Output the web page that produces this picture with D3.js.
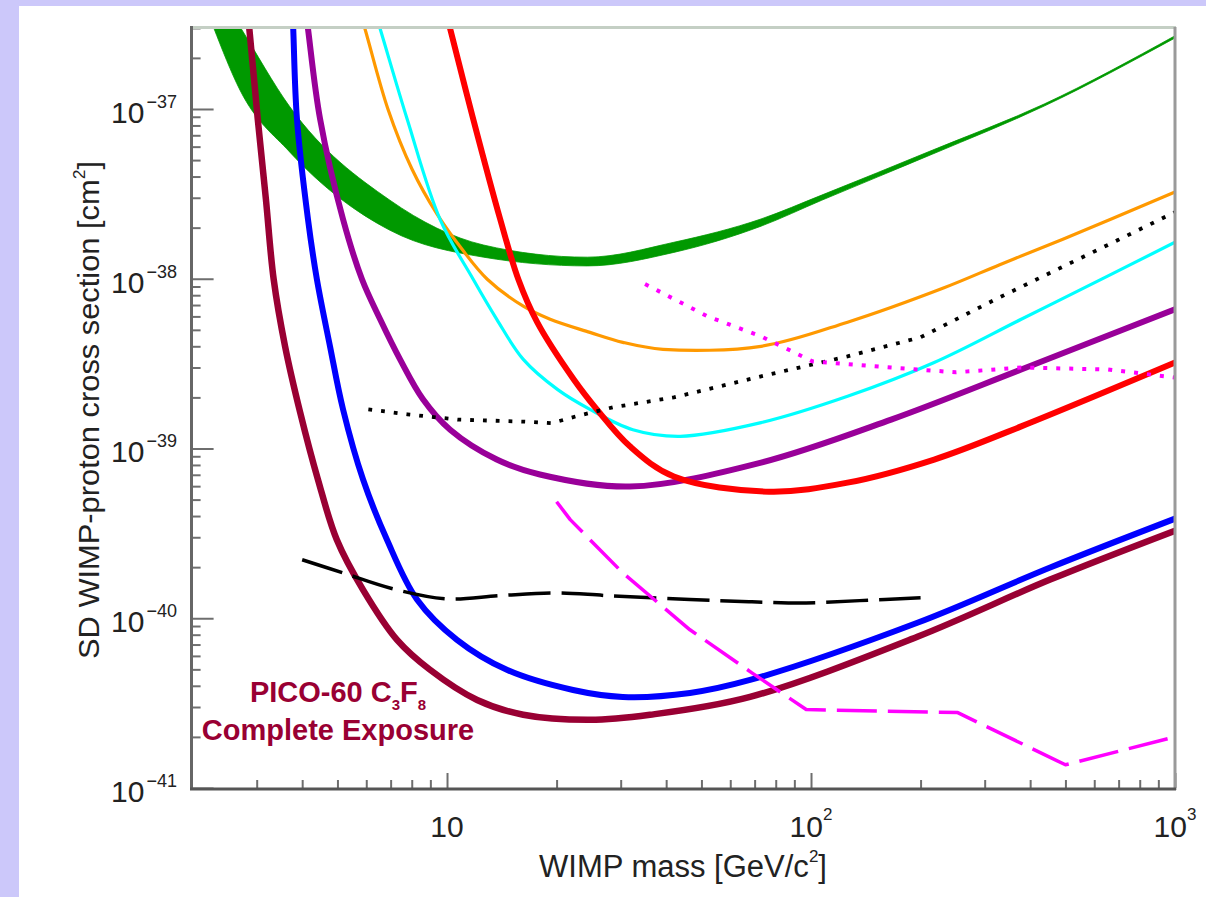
<!DOCTYPE html>
<html>
<head>
<meta charset="utf-8">
<script src="https://cdn.jsdelivr.net/npm/d3@7"></script>
<style>
  html, body { margin: 0; padding: 0; background: #ccc8fa; }
  svg { display: block; }
</style>
</head>
<body>
<svg id="chart" width="1206" height="897"></svg>
<script>
// ---------------- DATA (WIMP mass in GeV/c^2, SD WIMP-proton cross section in cm^2) ----------------
const xTickValues = [10, 100, 1000];
const xTickBase = ["10", "10", "10"];
const xTickExp = ["", "2", "3"];
const yTickValues = [1e-37, 1e-38, 1e-39, 1e-40, 1e-41];
const yTickExp = ["\u221237", "\u221238", "\u221239", "\u221240", "\u221241"];

// PICO-60 C3F8 complete exposure (maroon)
const massPico = [2.80, 2.86, 3.02, 3.18, 3.34, 3.59, 3.95, 4.42, 4.98, 5.88, 7.29, 8.98, 12.1, 16.2, 24.7, 36.1, 68.0, 196, 454, 1000];
const sigmaPico = [4.46e-37, 3.05e-37, 8.73e-38, 2.94e-38, 9.93e-39, 4.00e-39, 1.63e-39, 6.56e-40, 2.90e-40, 1.47e-40, 7.46e-41, 4.97e-41, 3.30e-41, 2.70e-41, 2.52e-41, 2.70e-41, 3.44e-41, 7.78e-41, 1.69e-40, 3.28e-40];

// blue
const massBlue = [3.75, 3.78, 3.87, 4.15, 4.39, 4.77, 5.18, 5.88, 6.84, 8.27, 10.65, 14.6, 22.2, 30.4, 46.5, 68.0, 196, 454, 1000];
const sigmaBlue = [4.46e-37, 2.97e-37, 8.73e-38, 2.24e-38, 9.93e-39, 4.00e-39, 1.70e-39, 6.56e-40, 2.90e-40, 1.29e-40, 7.46e-41, 4.97e-41, 3.78e-41, 3.44e-41, 3.63e-41, 4.33e-41, 9.4e-41, 1.99e-40, 3.86e-40];

// purple
const massPurple = [4.05, 4.15, 4.48, 5.18, 5.84, 6.55, 7.43, 8.59, 10.2, 13.7, 18.0, 31.8, 72.9, 166, 378, 1000];
const sigmaPurple = [4.46e-37, 2.97e-37, 8.73e-38, 2.24e-38, 9.93e-39, 5.77e-39, 3.35e-39, 1.95e-39, 1.29e-39, 8.61e-40, 7.03e-40, 5.97e-40, 8.26e-40, 1.48e-39, 2.92e-39, 6.61e-39];

// red
const massRed = [9.70, 10.2, 11.8, 14.0, 15.7, 17.7, 22.3, 25.8, 31.8, 42.0, 76.7, 126, 218, 378, 1000];
const sigmaRed = [4.46e-37, 2.97e-37, 8.73e-38, 2.24e-38, 9.93e-39, 5.53e-39, 2.55e-39, 1.70e-39, 1.03e-39, 6.84e-40, 5.57e-40, 6.29e-40, 8.61e-40, 1.35e-39, 3.21e-39];

// orange
const massOrange = [5.62, 5.95, 6.88, 8.01, 9.39, 11.0, 12.9, 16.2, 19.2, 24.7, 30.4, 39.2, 72.9, 126, 232, 330, 492, 1000];
const sigmaOrange = [4.46e-37, 2.97e-37, 1.0e-37, 4.43e-38, 2.40e-38, 1.49e-38, 9.93e-39, 6.89e-39, 5.77e-39, 4.83e-39, 4.22e-39, 3.84e-39, 4.00e-39, 5.55e-39, 8.85e-39, 1.21e-38, 1.71e-38, 3.24e-38];

// cyan
const massCyan = [6.18, 6.55, 7.77, 9.57, 11.8, 13.7, 16.2, 20.1, 24.7, 32.4, 43.7, 72.9, 126, 218, 378, 655, 1000];
const sigmaCyan = [4.46e-37, 2.97e-37, 8.73e-38, 2.24e-38, 9.93e-39, 5.77e-39, 3.35e-39, 2.23e-39, 1.70e-39, 1.29e-39, 1.18e-39, 1.42e-39, 2.03e-39, 3.21e-39, 5.77e-39, 1.04e-38, 1.64e-38];

// green band
const massGreen = [2.28, 2.70, 3.70, 6.97, 12.6, 24.3, 42.0, 72.9, 107, 216, 437, 1000];
const sigmaGreenLow = [3.05e-37, 1.29e-37, 5.57e-38, 1.93e-38, 1.34e-38, 1.19e-38, 1.43e-38, 2.04e-38, 2.90e-38, 5.43e-38, 1.04e-37, 2.62e-37];
const sigmaGreenHigh = [5.46e-37, 3.05e-37, 1.03e-37, 2.90e-38, 1.58e-38, 1.34e-38, 1.64e-38, 2.25e-38, 3.11e-38, 5.73e-38, 1.07e-37, 2.70e-37];

// black dotted
const massBlackDot = [6.08, 7.78, 10.7, 16.2, 19.4, 22.7, 28.6, 42.0, 72.9, 126, 200, 330, 697, 1000];
const sigmaBlackDot = [1.70e-39, 1.59e-39, 1.48e-39, 1.44e-39, 1.41e-39, 1.55e-39, 1.75e-39, 2.0e-39, 2.66e-39, 3.49e-39, 4.52e-39, 7.78e-39, 1.69e-38, 2.47e-38];

// magenta dotted
const massMagDot = [35.0, 52, 72.9, 101, 166, 250, 378, 655, 1000];
const sigmaMagDot = [9.3e-39, 6.0e-39, 4.58e-39, 3.26e-39, 3.0e-39, 2.81e-39, 3.0e-39, 2.92e-39, 2.62e-39];

// black dashed
const massBlackDash = [4.0, 5.18, 7.11, 10, 14.0, 20, 27.5, 46.5, 68.8, 96.9, 136, 200];
const sigmaBlackDash = [2.21e-40, 1.85e-40, 1.49e-40, 1.30e-40, 1.36e-40, 1.41e-40, 1.36e-40, 1.29e-40, 1.25e-40, 1.23e-40, 1.27e-40, 1.32e-40];

// magenta dashed
const massMagDash = [20, 21.8, 30.4, 46.5, 68.8, 97, 253, 500, 1000];
const sigmaMagDash = [4.86e-40, 3.81e-40, 1.85e-40, 8.55e-41, 4.77e-41, 2.9e-41, 2.78e-41, 1.37e-41, 2.0e-41];

// ---------------- DRAWING ----------------
const svg = d3.select("#chart");
const FONT = "'Liberation Sans', Arial, Helvetica, sans-serif";

svg.append("rect").attr("x", 0).attr("y", 0).attr("width", 1206).attr("height", 897).attr("fill", "#ccc8fa");
svg.append("rect").attr("x", 19).attr("y", 6).attr("width", 1187).attr("height", 891).attr("fill", "#ffffff");

const L = 192.6, R = 1175, T = 28, B = 788;
const x = d3.scaleLog().domain([2, 1000]).range([L, R]);
const y = d3.scaleLog().domain([1e-41, 3e-37]).range([B, T]);

svg.append("defs").append("clipPath").attr("id", "plotclip")
  .append("rect").attr("x", L).attr("y", T).attr("width", R - L).attr("height", B - T);

const plot = svg.append("g").attr("clip-path", "url(#plotclip)");

const zip = (a, b) => a.map((v, i) => [v, b[i]]);
const smoothCurve = d3.curveCatmullRom.alpha(0.5);
const smooth = d3.line().x(d => x(d[0])).y(d => y(d[1])).curve(smoothCurve);
const straight = d3.line().x(d => x(d[0])).y(d => y(d[1]));

// green band
const bandData = massGreen.map((m, i) => ({ m, lo: sigmaGreenLow[i], hi: sigmaGreenHigh[i] }));
plot.append("path")
  .attr("d", d3.area().x(d => x(d.m)).y0(d => y(d.lo)).y1(d => y(d.hi)).curve(d3.curveMonotoneX)(bandData))
  .attr("fill", "#009900").attr("stroke", "#009900").attr("stroke-width", 0.8);

function drawLine(mass, sigma, color, width, dash, gen) {
  const p = plot.append("path")
    .attr("d", (gen || smooth)(zip(mass, sigma)))
    .attr("fill", "none").attr("stroke", color).attr("stroke-width", width)
    .attr("stroke-linejoin", "round");
  if (dash) p.attr("stroke-dasharray", dash);
  return p;
}

drawLine(massOrange, sigmaOrange, "#ff9900", 3.2);
drawLine(massCyan, sigmaCyan, "#00ffff", 3.2);
drawLine(massPurple, sigmaPurple, "#990099", 6);
drawLine(massRed, sigmaRed, "#ff0000", 6);
drawLine(massBlue, sigmaBlue, "#0000ff", 6);
drawLine(massPico, sigmaPico, "#990033", 6.5);
drawLine(massBlackDot, sigmaBlackDot, "#000000", 3.8, "3.8,9", straight);
drawLine(massMagDot, sigmaMagDot, "#ff00ff", 4, "4,9", straight);
drawLine(massBlackDash, sigmaBlackDash, "#000000", 3.5, "42,11", smooth);
drawLine(massMagDash, sigmaMagDash, "#ff00ff", 3.5, "40,11", straight);

// ---------------- AXES ----------------
const frame = svg.append("g");
frame.append("line").attr("x1", 190).attr("x2", 1176).attr("y1", 27.5).attr("y2", 27.5)
  .attr("stroke", "#c4cfc4").attr("stroke-width", 3);
frame.append("line").attr("x1", 1175).attr("x2", 1175).attr("y1", 27).attr("y2", 790)
  .attr("stroke", "#9a9a9a").attr("stroke-width", 3);

// y ticks (inward)
const yMinor = y.ticks().filter(v => !yTickValues.some(t => Math.abs(Math.log10(v / t)) < 1e-6));
const yAxisMinor = d3.axisLeft(y).tickValues(yMinor).tickSizeInner(-8).tickSizeOuter(0).tickFormat("");
const yAxisMajor = d3.axisLeft(y).tickValues(yTickValues).tickSizeInner(-21).tickSizeOuter(0).tickFormat("");
[yAxisMinor, yAxisMajor].forEach(ax => {
  const g = svg.append("g").attr("transform", `translate(${L},0)`).call(ax);
  g.select(".domain").remove();
  g.selectAll(".tick line").attr("stroke", "#6e6e6e").attr("stroke-width", 2);
});

// x ticks (inward)
const xMinor = x.ticks().filter(v => !xTickValues.some(t => Math.abs(Math.log10(v / t)) < 1e-6) && v > 2.01);
const xAxisMinor = d3.axisBottom(x).tickValues(xMinor).tickSizeInner(-8).tickSizeOuter(0).tickFormat("");
const xAxisMajor = d3.axisBottom(x).tickValues(xTickValues).tickSizeInner(-15).tickSizeOuter(0).tickFormat("");
[xAxisMinor, xAxisMajor].forEach(ax => {
  const g = svg.append("g").attr("transform", `translate(0,${B})`).call(ax);
  g.select(".domain").remove();
  g.selectAll(".tick line").attr("stroke", "#6e6e6e").attr("stroke-width", 2);
});

frame.raise();
svg.append("line").attr("x1", 191.5).attr("x2", 191.5).attr("y1", 26).attr("y2", 790)
  .attr("stroke", "#666666").attr("stroke-width", 3);
svg.append("line").attr("x1", 190).attr("x2", 1176).attr("y1", 789).attr("y2", 789)
  .attr("stroke", "#555555").attr("stroke-width", 3);

// y tick labels
yTickValues.forEach((v, i) => {
  const t = svg.append("text").attr("x", 177).attr("y", y(v) + 14)
    .attr("text-anchor", "end").attr("font-family", FONT).attr("fill", "#222");
  t.append("tspan").attr("font-size", 30).text("10");
  t.append("tspan").attr("font-size", 18).attr("dy", -15).attr("dx", 2).text(yTickExp[i]);
});

// x tick labels
xTickValues.forEach((v, i) => {
  const t = svg.append("text").attr("x", x(v)).attr("y", 837)
    .attr("text-anchor", "middle").attr("font-family", FONT).attr("fill", "#222");
  t.append("tspan").attr("font-size", 30).text(xTickBase[i]);
  if (xTickExp[i]) t.append("tspan").attr("font-size", 17).attr("dy", -17).text(xTickExp[i]);
});

// axis titles
const xt = svg.append("text").attr("x", 683).attr("y", 877).attr("text-anchor", "middle")
  .attr("font-family", FONT).attr("fill", "#222").attr("font-size", 31);
xt.append("tspan").text("WIMP mass [GeV/c");
xt.append("tspan").attr("font-size", 17).attr("dy", -15).text("2");
xt.append("tspan").attr("dy", 15).text("]");

const yt = svg.append("text").attr("transform", "translate(99,410) rotate(-90)")
  .attr("text-anchor", "middle").attr("font-family", FONT).attr("fill", "#222").attr("font-size", 30)
  .attr("textLength", 498).attr("lengthAdjust", "spacingAndGlyphs");
yt.append("tspan").text("SD WIMP-proton cross section [cm");
yt.append("tspan").attr("font-size", 17).attr("dy", -14).text("2");
yt.append("tspan").attr("dy", 14).text("]");

// PICO label
const lab1 = svg.append("text").attr("x", 338).attr("y", 702).attr("text-anchor", "middle")
  .attr("font-family", FONT).attr("font-weight", "bold").attr("font-size", 29).attr("fill", "#990033");
lab1.append("tspan").text("PICO-60 C");
lab1.append("tspan").attr("font-size", 15).attr("dy", 8).text("3");
lab1.append("tspan").attr("dy", -8).text("F");
lab1.append("tspan").attr("font-size", 15).attr("dy", 8).text("8");
svg.append("text").attr("x", 338).attr("y", 740).attr("text-anchor", "middle")
  .attr("font-family", FONT).attr("font-weight", "bold").attr("font-size", 29).attr("fill", "#990033")
  .text("Complete Exposure");
</script>
</body>
</html>
